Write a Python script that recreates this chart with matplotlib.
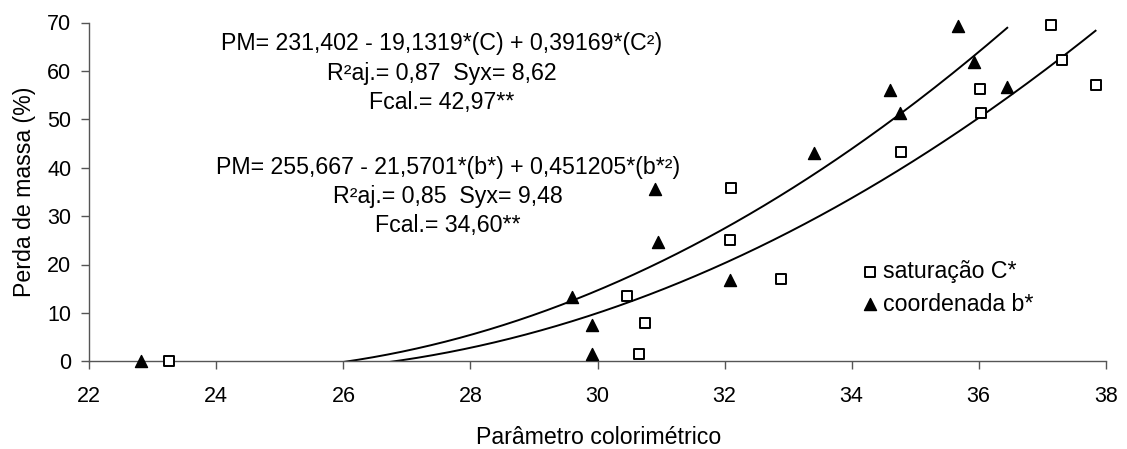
import matplotlib
matplotlib.use("Agg")
import matplotlib.pyplot as plt
import numpy as np

plt.rcParams['font.family'] = ['Liberation Sans', 'DejaVu Sans']

# Data: saturação C*
c_x = [23.26, 30.47, 30.66, 30.75, 32.08, 32.10, 32.89, 34.78, 36.02, 36.04, 37.14, 37.31, 37.84]
c_y = [0.1, 13.5, 1.6, 7.9, 25.0, 35.9, 17.1, 43.3, 56.3, 51.4, 69.5, 62.2, 57.0]
# Data: coordenada b*
b_x = [22.82, 29.60, 29.92, 29.92, 30.90, 30.96, 32.09, 33.41, 34.60, 34.76, 35.67, 35.92, 36.45]
b_y = [0.0, 13.2, 7.6, 1.5, 35.7, 24.7, 16.9, 43.1, 56.0, 51.2, 69.2, 61.9, 56.6]

# Regression coefficients (a, b, c) for PM = a + b*x + c*x^2
coef_c = [231.402, -19.1319, 0.39169]
coef_b = [255.667, -21.5701, 0.451205]

x_ticks = [22, 24, 26, 28, 30, 32, 34, 36, 38]
y_ticks = [0, 10, 20, 30, 40, 50, 60, 70]

fig = plt.figure(figsize=(11.27, 4.49), dpi=100)
ax = fig.add_axes([89.3/1127, 1-361.3/449, (1105.7-89.3)/1127, (361.3-22.5)/449])

def curve(coef, xmin, xmax):
    xs = np.linspace(xmin, xmax, 300)
    return xs, coef[0] + coef[1]*xs + coef[2]*xs**2

xs, ys = curve(coef_c, min(c_x), max(c_x))
ax.plot(xs, ys, color='black', lw=1.4, zorder=2)
xs, ys = curve(coef_b, min(b_x), max(b_x))
ax.plot(xs, ys, color='black', lw=1.4, zorder=2)

ax.scatter(c_x, c_y, marker='s', s=42, facecolors='white', edgecolors='black', linewidths=1.4,
           zorder=3, label='saturação C*', clip_on=False)
ax.scatter(b_x, b_y, marker='^', s=75, color='black', zorder=3, label='coordenada b*', clip_on=False)

ax.set_xlim(22, 38)
ax.set_ylim(0, 70)
ax.set_xticks(x_ticks)
ax.set_yticks(y_ticks)
ax.spines['top'].set_visible(False)
ax.spines['right'].set_visible(False)
for s in ['left', 'bottom']:
    ax.spines[s].set_color('#555555')
    ax.spines[s].set_linewidth(1.0)
ax.tick_params(axis='both', direction='out', length=6, width=1.0, color='#555555',
               labelsize=15.5, labelcolor='black')
ax.tick_params(axis='x', pad=12)
ax.tick_params(axis='y', pad=7)

fs = 16.7
ax.set_xlabel('Parâmetro colorimétrico', fontsize=fs)
ax.set_ylabel('Perda de massa (%)', fontsize=fs)
ax.xaxis.label.set_va('center')
ax.xaxis.set_label_coords(0.501, (361.3-437)/338.8)
ax.yaxis.label.set_va('center')
ax.yaxis.set_label_coords((25-89.3)/1016.4, 0.5)

ax.text(27.55, 65.6, 'PM= 231,402 - 19,1319*(C) + 0,39169*(C²)', ha='center', va='center', fontsize=fs)
ax.text(27.55, 59.4, 'R²aj.= 0,87  Syx= 8,62', ha='center', va='center', fontsize=fs)
ax.text(27.55, 53.4, 'Fcal.= 42,97**', ha='center', va='center', fontsize=fs)
ax.text(27.65, 40.1, 'PM= 255,667 - 21,5701*(b*) + 0,451205*(b*²)', ha='center', va='center', fontsize=fs)
ax.text(27.65, 34.1, 'R²aj.= 0,85  Syx= 9,48', ha='center', va='center', fontsize=fs)
ax.text(27.65, 28.0, 'Fcal.= 34,60**', ha='center', va='center', fontsize=fs)

leg = ax.legend(loc='upper left', bbox_to_anchor=((849-89.3)/1016.4, (361.3-251)/338.8), frameon=False,
                fontsize=fs, handletextpad=0.05, labelspacing=0.4, borderaxespad=0, handlelength=1.0,
                markerscale=1.0)

fig.savefig('out.png', dpi=100)
